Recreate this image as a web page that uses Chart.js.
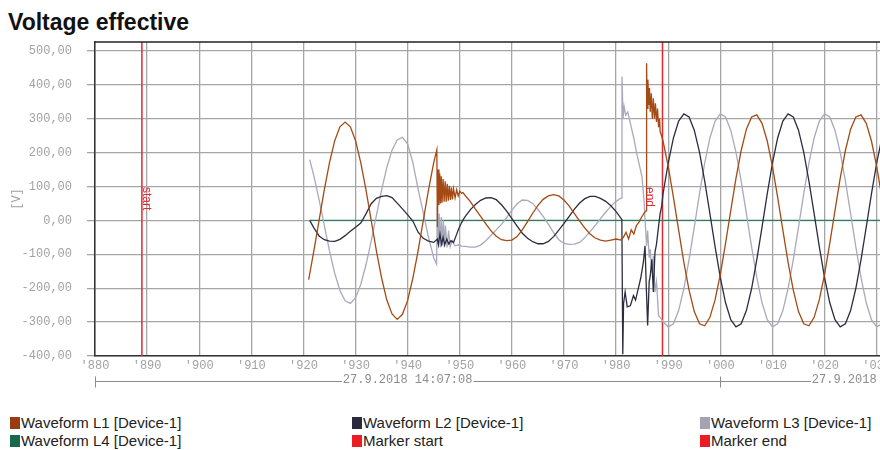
<!DOCTYPE html>
<html>
<head>
<meta charset="utf-8">
<title>Voltage effective</title>
<script src="https://cdn.jsdelivr.net/npm/chart.js@4.4.1/dist/chart.umd.min.js"></script>
<style>
    html, body { margin: 0; padding: 0; background: #fff; }
    body { width: 880px; height: 450px; overflow: hidden; position: relative; font-family: "Liberation Sans", Arial, sans-serif; }
    #titulo { position: absolute; left: 8px; top: 11px; font-size: 23px; line-height: 23px; font-weight: bold; color: #111; }
    #grafico { position: absolute; left: 0; top: 0; }
    .ley { position: absolute; font-size: 15px; line-height: 18px; color: #222; white-space: nowrap; }
    .ley span { display: inline-block; width: 10px; height: 12px; vertical-align: -1px; margin-right: 1px; }
</style>
</head>
<body>
<div id="titulo">Voltage effective</div>
<canvas id="grafico" width="1033" height="400"></canvas>
<div id="leyenda"></div>
<script>
// tiempo en ms (14:07:08.880 ...), valores en V
const tiempoMin = 880;
const tiempoMax = 1060;

const waveL1 = [
    [921,-175],[922,-90],[923,0],[924,90],[925,170],[926,235],[927,276],[928,290],[929,276],[930,235],
    [931,170],[932,90],[933,0],[934,-90],[935,-170],[936,-235],[937,-276],[938,-292],[939,-277],[940,-236],
    [941,-170],[942,-90],[943,0],[944,90],[945,170],[945.6,208],
    [945.7,-20],[945.85,150],[946,45],[946.15,138],[946.3,50],[946.45,130],[946.6,52],[946.8,122],[947,55],
    [947.2,115],[947.4,55],[947.6,108],[947.8,58],[948,102],[948.2,60],[948.4,97],[948.6,62],[948.8,93],
    [949.1,66],[949.4,90],[949.7,72],[950,86],[950.3,80],[950.6,82],
    [951,74],[952,56],[953,33],[954,12],[955,-10],[956,-31],[957,-47],[958,-57],[959,-60],[960,-58],
    [961,-48],[962,-28],[963,-4],[964,21],[965,44],[966,62],[967,72],[968,76],[969,72],[970,60],
    [971,42],[972,20],[973,-2],[974,-23],[975,-40],[976,-52],[977,-58],[978,-61],[979,-58],[980,-55],
    [980.9,-58],[981.4,-50],[981.9,-35],[982.4,-55],[982.9,-28],[983.4,-40],[983.9,-15],[984.4,-5],[984.9,10],
    [985.4,22],[985.75,28],
    [985.85,463],[985.95,330],[986.1,415],[986.25,340],[986.4,390],[986.55,320],[986.75,375],[986.95,300],
    [987.15,360],[987.35,300],[987.55,345],[987.75,290],[987.95,330],[988.15,275],[988.35,300],[988.45,262],[988.75,248],
    [989,234],[990,159],[991,68],[992,-29],[993,-124],[994,-206],[995,-269],[996,-305],[997,-311],[998,-286],
    [999,-234],[1000,-159],[1001,-68],[1002,29],[1003,124],[1004,206],[1005,269],[1006,305],[1007,311],[1008,286],
    [1009,234],[1010,159],[1011,68],[1012,-29],[1013,-124],[1014,-206],[1015,-269],[1016,-305],[1017,-311],[1018,-286],
    [1019,-234],[1020,-159],[1021,-68],[1022,29],[1023,124],[1024,206],[1025,269],[1026,305],[1027,311],[1028,286],
    [1029,234],[1030,159],[1031,68],[1032,-29],[1033,-124]
];

const waveL2 = [
    [921.2,0],[922,-22],[923,-46],[924,-57],[925,-61],[926,-62],[927,-56],[928,-45],[929,-32],[930,-20],
    [931,-8],[932,19],[933,49],[934,65],[935,71],[936,73],[937,67],[938,51],[939,34],[940,16],
    [941,-2],[942,-35],[943,-53],[944,-61],[945,-65],
    [945.7,-55],[945.9,-72],[946.2,-40],[946.5,-70],[946.8,-50],[947.1,-72],[947.5,-55],[947.9,-70],[948.3,-60],
    [948.8,-65],[949.3,-45],[949.8,-25],[950.3,-8],[950.7,3],
    [951,10],[952,31],[953,47],[954,59],[955,66],[956,67],[957,61],[958,46],[959,27],[960,5],
    [961,-17],[962,-38],[963,-53],[964,-63],[965,-69],[966,-69],[967,-62],[968,-48],[969,-29],[970,-9],
    [971,12],[972,33],[973,51],[974,64],[975,71],[976,71],[977,65],[978,56],[979,43],[980,26],[981.1,3],
    [981.28,-395],[981.43,-245],[981.73,-211],[982.13,-255],[982.73,-252],[983.33,-222],[983.73,-235],[984.23,-203],
    [984.73,-170],[985.23,-123],[985.55,-75],[985.8,-200],[986.05,-310],[986.35,-180],[986.55,-164],[986.85,-115],
    [987.15,-211],[987.45,-95],[987.75,-70],[988.15,-17],[988.45,20],[988.75,42],
    [989,78],[990,169],[991,243],[992,293],[993,314],[994,305],[995,266],[996,201],[997,116],[998,20],
    [999,-78],[1000,-169],[1001,-243],[1002,-293],[1003,-314],[1004,-305],[1005,-266],[1006,-201],[1007,-116],[1008,-20],
    [1009,78],[1010,169],[1011,243],[1012,293],[1013,314],[1014,305],[1015,266],[1016,201],[1017,116],[1018,20],
    [1019,-78],[1020,-169],[1021,-243],[1022,-293],[1023,-314],[1024,-305],[1025,-266],[1026,-201],[1027,-116],[1028,-20],
    [1029,78],[1030,169],[1031,243],[1032,293],[1033,314]
];

const waveL3 = [
    [921.2,179],[922,131],[923,61],[924,-15],[925,-90],[926,-156],[927,-207],[928,-237],[929,-245],[930,-228],
    [931,-189],[932,-131],[933,-61],[934,15],[935,90],[936,156],[937,207],[938,237],[939,245],[940,225],
    [941,170],[942,92],[943,22],[944,-50],[945,-110],[945.55,-129],
    [945.7,40],[945.85,-70],[946.05,20],[946.25,-80],[946.45,10],[946.65,-75],[946.85,0],[947.05,-80],[947.25,-15],
    [947.55,-80],[947.85,-30],[948.15,-78],[948.55,-60],[949.05,-75],[949.8,-72],[950.3,-76],
    [951,-77],[952,-79],[953,-79],[954,-73],[955,-60],[956,-44],[957,-28],[958,-12],[959,8],[960,30],
    [961,49],[962,60],[963,59],[964,50],[965,32],[966,12],[967,-11],[968,-36],[969,-57],[970,-68],
    [971,-71],[972,-70],[973,-65],[974,-51],[975,-33],[976,-15],[977,5],[978,24],[979,42],[980,56],[981,66],
    [981.13,424],[981.33,300],[981.53,336],[981.83,310],[982.23,320],[982.73,287],[983.43,240],[983.93,199],
    [984.43,165],[984.95,130],[985.35,60],[985.55,3],[985.85,-75],[986.05,-30],[986.35,-110],[986.55,-85],
    [986.85,-154],[987.15,-105],[987.45,-212],[987.75,-180],[988.15,-281],[988.65,-290],[989.05,-300],
    [990,-314],[991,-305],[992,-266],[993,-201],[994,-116],[995,-20],[996,78],[997,169],[998,243],[999,293],
    [1000,314],[1001,305],[1002,266],[1003,201],[1004,116],[1005,20],[1006,-78],[1007,-169],[1008,-243],[1009,-293],
    [1010,-314],[1011,-305],[1012,-266],[1013,-201],[1014,-116],[1015,-20],[1016,78],[1017,169],[1018,243],[1019,293],
    [1020,314],[1021,305],[1022,266],[1023,201],[1024,116],[1025,20],[1026,-78],[1027,-169],[1028,-243],[1029,-293],
    [1030,-314],[1031,-305],[1032,-266],[1033,-201]
];

const waveL4 = [[921.2,0],[1033,0]];

const marcadores = [889.0, 988.9];
const marcadorTextos = ['start', 'end'];

const fechas = ['27.9.2018 14:07:08', '27.9.2018 14:07:09'];
const fechaCortes = [880, 1000, 1060];

const yMin = -400;
const yMax = 526;

function aPuntos(serie) {
    return serie.map(p => ({ x: p[0], y: p[1] }));
}

function lineaMarcador(t) {
    return [{ x: t, y: yMin }, { x: t, y: yMax }];
}

const series = [
    { label: 'Waveform L1 [Device-1]', data: aPuntos(waveL1), color: '#a44a14', legendColor: '#9b3b10' },
    { label: 'Waveform L2 [Device-1]', data: aPuntos(waveL2), color: '#2c2c40', legendColor: '#2a2a3c' },
    { label: 'Waveform L3 [Device-1]', data: aPuntos(waveL3), color: '#a9a9bd', legendColor: '#a3a3b3' },
    { label: 'Waveform L4 [Device-1]', data: aPuntos(waveL4), color: '#2f7d62', legendColor: '#18694c' },
    { label: 'Marker start', data: lineaMarcador(marcadores[0]), color: '#e0282f', legendColor: '#ec1c24' },
    { label: 'Marker end', data: lineaMarcador(marcadores[1]), color: '#e0282f', legendColor: '#ec1c24' }
];

const fuenteMono = { family: '"Liberation Mono", "Courier New", monospace', size: 12 };
const grisTexto = '#a2a2a2';

const extras = {
    id: 'extras',
    afterDatasetsDraw(chart) {
        const { ctx, chartArea: a, scales: { x } } = chart;
        ctx.save();

        // borde superior
        ctx.strokeStyle = '#222';
        ctx.lineWidth = 1.5;
        ctx.beginPath();
        ctx.moveTo(a.left, a.top);
        ctx.lineTo(a.right, a.top);
        ctx.stroke();

        // textos de marcadores
        ctx.fillStyle = '#e0282f';
        ctx.font = '12px "Liberation Sans", Arial, sans-serif';
        ctx.textBaseline = 'alphabetic';
        ctx.textAlign = 'left';
        marcadores.forEach((t, i) => {
            const px = x.getPixelForValue(t);
            ctx.save();
            ctx.translate(i === 0 ? px + 1.5 : px - 16, 187);
            ctx.rotate(Math.PI / 2);
            ctx.fillText(marcadorTextos[i], 0, 0);
            ctx.restore();
        });

        // fila de fecha
        const yLinea = a.bottom + 25.5;
        ctx.font = '12px ' + fuenteMono.family;
        ctx.fillStyle = '#8c8c8c';
        ctx.strokeStyle = '#8c8c8c';
        ctx.lineWidth = 1;
        ctx.textAlign = 'center';
        for (let i = 0; i < fechas.length; i++) {
            const x0 = x.getPixelForValue(fechaCortes[i]);
            const x1 = x.getPixelForValue(fechaCortes[i + 1]);
            const w = ctx.measureText(fechas[i]).width;
            const cx = (x0 + x1) / 2;
            ctx.beginPath();
            ctx.moveTo(x0, yLinea);
            ctx.lineTo(cx - w / 2 - 1, yLinea);
            ctx.moveTo(cx + w / 2 + 1, yLinea);
            ctx.lineTo(x1, yLinea);
            ctx.moveTo(Math.round(x0) + 0.5, yLinea - 5);
            ctx.lineTo(Math.round(x0) + 0.5, yLinea + 6);
            ctx.stroke();
            ctx.fillText(fechas[i], cx, yLinea + 1);
        }
        ctx.restore();
    }
};

const grafico = new Chart(document.getElementById('grafico').getContext('2d'), {
    type: 'line',
    data: {
        datasets: series.map(s => ({
            label: s.label,
            data: s.data,
            borderColor: s.color,
            backgroundColor: s.color,
            borderWidth: s.label.startsWith('Marker') ? 1.5 : 1.3,
            pointRadius: 0,
            tension: 0,
            fill: false
        }))
    },
    options: {
        responsive: false,
        animation: false,
        devicePixelRatio: 1,
        layout: { padding: { top: 42, right: 0, bottom: 0, left: 0 } },
        plugins: {
            legend: { display: false },
            tooltip: { enabled: false }
        },
        scales: {
            x: {
                type: 'linear',
                min: tiempoMin,
                max: tiempoMax,
                afterFit(s) { s.height = 44; s.paddingLeft = 0; s.paddingRight = 0; },
                ticks: {
                    stepSize: 10,
                    includeBounds: false,
                    autoSkip: false,
                    maxRotation: 0,
                    padding: 3,
                    color: grisTexto,
                    font: fuenteMono,
                    callback: v => "'" + String(v % 1000).padStart(3, '0')
                },
                grid: { color: '#a6a6a6', lineWidth: 1.3, drawTicks: false },
                border: { display: true, color: '#333', width: 1.5 }
            },
            y: {
                min: yMin,
                max: yMax,
                afterFit(s) { s.width = 95; s.paddingTop = 0; s.paddingBottom = 0; },
                ticks: {
                    stepSize: 100,
                    includeBounds: false,
                    padding: 15,
                    color: grisTexto,
                    font: fuenteMono,
                    callback: v => v.toFixed(2).replace('.', ',')
                },
                grid: { color: '#a6a6a6', lineWidth: 1.3, tickLength: 8 },
                border: { display: true, color: '#333', width: 1.5 },
                title: { display: true, text: '[V]', color: grisTexto, font: fuenteMono, padding: { top: 10, bottom: 0 } }
            }
        }
    },
    plugins: [extras]
});

// leyenda en tres columnas
const leyendaX = [10, 352, 700];
const leyendaY = [414, 432];
const leyenda = document.getElementById('leyenda');
series.forEach((s, i) => {
    const d = document.createElement('div');
    d.className = 'ley';
    d.style.left = leyendaX[i % 3] + 'px';
    d.style.top = leyendaY[Math.floor(i / 3)] + 'px';
    d.innerHTML = '<span style="background:' + s.legendColor + '"></span>' + s.label;
    leyenda.appendChild(d);
});
</script>
</body>
</html>
